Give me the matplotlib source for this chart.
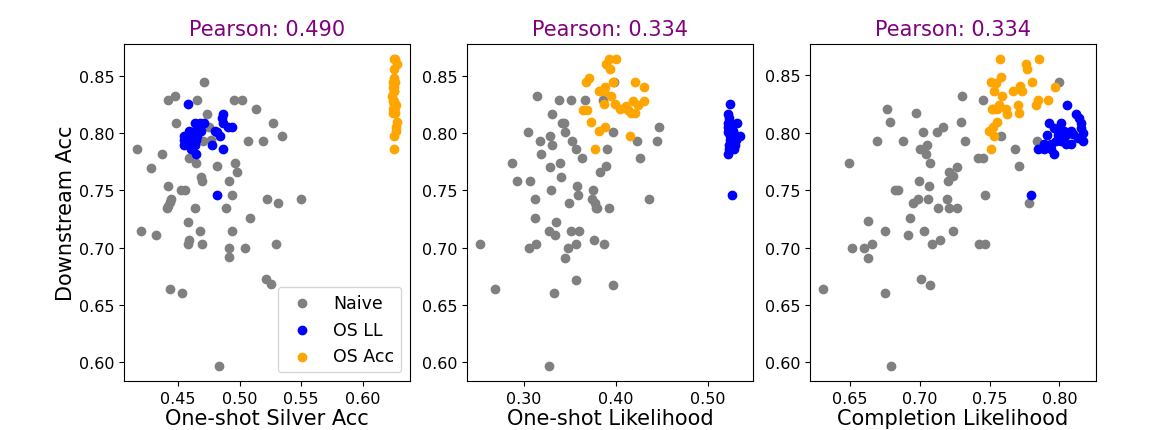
import numpy as np
import matplotlib
matplotlib.use('Agg')
import matplotlib.pyplot as plt
from matplotlib.ticker import FormatStrFormatter

# Painel 1: One-shot Silver Acc x Downstream Acc
naive_silver = [0.4714, 0.4476, 0.4419, 0.4657, 0.4954, 0.5024, 0.5130, 0.4738, 0.4481, 0.5268,
                0.4749, 0.5343, 0.5070, 0.5192, 0.4705, 0.4765, 0.4170, 0.4370, 0.4589, 0.4651,
                0.4962, 0.4814, 0.4278, 0.4976, 0.4684, 0.4697, 0.4911, 0.4419, 0.4522, 0.4557,
                0.4943, 0.5224, 0.5316, 0.5497, 0.4446, 0.4435, 0.4422, 0.4408, 0.4638, 0.4889,
                0.5084, 0.4584, 0.4197, 0.4676, 0.4943, 0.4324, 0.4592, 0.4584, 0.4695, 0.5300,
                0.4914, 0.5043, 0.4914, 0.5216, 0.5259, 0.4435, 0.4532, 0.4832]
naive_silver_acc = [0.8442, 0.8324, 0.8284, 0.8284, 0.8284, 0.8284, 0.8206, 0.8168, 0.8090, 0.8087,
                    0.8053, 0.7972, 0.7932, 0.7932, 0.7932, 0.7937, 0.7857, 0.7813, 0.7779, 0.7735,
                    0.7735, 0.7712, 0.7698, 0.7660, 0.7620, 0.7583, 0.7583, 0.7539, 0.7502, 0.7502,
                    0.7461, 0.7421, 0.7386, 0.7421, 0.7424, 0.7395, 0.7366, 0.7343, 0.7343, 0.7343,
                    0.7262, 0.7228, 0.7147, 0.7147, 0.7147, 0.7109, 0.7069, 0.7032, 0.7032, 0.7032,
                    0.6994, 0.6994, 0.6916, 0.6726, 0.6680, 0.6642, 0.6605, 0.5973]

osll_acc = [0.8249, 0.8168, 0.8128, 0.8090, 0.8090, 0.8090, 0.8090, 0.8053, 0.8053, 0.8015,
            0.8015, 0.8015, 0.8015, 0.8010, 0.7972, 0.7972, 0.7972, 0.7972, 0.7972, 0.7937,
            0.7937, 0.7937, 0.7894, 0.7894, 0.7894, 0.7894, 0.7860, 0.7860, 0.7813, 0.7461]
osll_silver = [0.4581, 0.4868, 0.4859, 0.4635, 0.4676, 0.4711, 0.4868, 0.4908, 0.4941, 0.4589,
               0.4635, 0.4684, 0.4800, 0.4819, 0.4549, 0.4576, 0.4616, 0.4657, 0.4838, 0.4549,
               0.4589, 0.4643, 0.4549, 0.4589, 0.4635, 0.4778, 0.4868, 0.4603, 0.4651, 0.4819]
osll_lik = [0.5244, 0.5226, 0.5233, 0.5317, 0.5226, 0.5233, 0.5244, 0.5219, 0.5240, 0.5262,
            0.5233, 0.5250, 0.5280, 0.5226, 0.5353, 0.5299, 0.5262, 0.5240, 0.5320, 0.5244,
            0.5280, 0.5310, 0.5299, 0.5233, 0.5262, 0.5250, 0.5233, 0.5290, 0.5226, 0.5270]

osacc_acc = [0.8644, 0.8641, 0.8598, 0.8558, 0.8483, 0.8442, 0.8442, 0.8442, 0.8399, 0.8405,
             0.8362, 0.8362, 0.8324, 0.8252, 0.8252, 0.8209, 0.8232, 0.8281, 0.8281, 0.8246,
             0.8203, 0.8174, 0.8174, 0.8203, 0.8203, 0.8093, 0.8015, 0.8053, 0.7972, 0.7862]
osacc_silver = [0.6251, 0.6262, 0.6278, 0.6257, 0.6251, 0.6257, 0.6246, 0.6262, 0.6251, 0.6246,
                0.6257, 0.6251, 0.6241, 0.6257, 0.6251, 0.6246, 0.6262, 0.6257, 0.6246, 0.6268,
                0.6251, 0.6246, 0.6262, 0.6257, 0.6251, 0.6278, 0.6268, 0.6268, 0.6257, 0.6251]
osacc_lik = [0.3925, 0.4005, 0.3889, 0.3933, 0.3714, 0.3678, 0.3969, 0.4206, 0.4308, 0.3878,
             0.3823, 0.3867, 0.3944, 0.3867, 0.3987, 0.4042, 0.4115, 0.4188, 0.4308, 0.4242,
             0.4133, 0.4169, 0.4206, 0.3641, 0.3689, 0.3732, 0.3823, 0.3878, 0.4151, 0.3769]

# Painel 2: One-shot Likelihood
naive_lik = [0.2523, 0.2687, 0.2869, 0.2923, 0.3047, 0.3069, 0.3117, 0.3117, 0.3128, 0.3051,
             0.3142, 0.3171, 0.3189, 0.3288, 0.3302, 0.3310, 0.3281, 0.3295, 0.3346, 0.3335,
             0.3270, 0.3328, 0.3270, 0.3379, 0.3397, 0.3408, 0.3412, 0.3441, 0.3448, 0.3510,
             0.3525, 0.3488, 0.3485, 0.3444, 0.3514, 0.3572, 0.3579, 0.3590, 0.3601, 0.3572,
             0.3568, 0.3638, 0.3670, 0.3754, 0.3747, 0.3772, 0.3780, 0.3801, 0.3765, 0.3827,
             0.3860, 0.3889, 0.3900, 0.3874, 0.3929, 0.3973, 0.3973, 0.3984, 0.4231, 0.4268,
             0.4359, 0.4450, 0.4468]
naive_lik_acc = [0.7032, 0.6642, 0.7735, 0.7583, 0.8010, 0.7583, 0.7421, 0.7262, 0.7032, 0.6994,
                 0.8321, 0.7932, 0.7813, 0.7972, 0.8168, 0.7894, 0.7701, 0.7502, 0.7228, 0.7109,
                 0.7147, 0.6605, 0.5973, 0.8287, 0.7735, 0.7620, 0.8090, 0.8090, 0.8010, 0.8287,
                 0.7932, 0.7386, 0.6994, 0.6913, 0.7147, 0.7860, 0.7536, 0.7459, 0.7147, 0.7032,
                 0.6723, 0.7779, 0.8287, 0.7502, 0.7424, 0.7386, 0.7343, 0.7343, 0.7066, 0.7660,
                 0.8287, 0.7710, 0.7860, 0.7032, 0.7343, 0.6674, 0.8010, 0.8445, 0.7932, 0.7779,
                 0.7421, 0.7932, 0.8053]

# Painel 3: Completion Likelihood
naive_comp = [0.6306, 0.6495, 0.6510, 0.6598, 0.6625, 0.6630, 0.6658, 0.6690, 0.6750, 0.6750,
              0.6766, 0.6786, 0.6790, 0.6822, 0.6846, 0.6882, 0.6918, 0.6927, 0.6949, 0.6973,
              0.6994, 0.6990, 0.7004, 0.7026, 0.7021, 0.7047, 0.7052, 0.7057, 0.7064, 0.7071,
              0.7086, 0.7076, 0.7006, 0.7126, 0.7129, 0.7146, 0.7167, 0.7196, 0.7203, 0.7206,
              0.7206, 0.7237, 0.7237, 0.7266, 0.7266, 0.7294, 0.7304, 0.7323, 0.7417, 0.7426,
              0.7450, 0.7465, 0.7453, 0.7470, 0.7578, 0.7683, 0.7707, 0.7779, 0.7839, 0.8000]
naive_comp_acc = [0.6642, 0.7735, 0.6994, 0.6994, 0.6913, 0.7228, 0.7032, 0.7932, 0.7147, 0.6605,
                  0.8206, 0.8090, 0.5973, 0.7502, 0.7502, 0.7932, 0.7109, 0.7262, 0.7386, 0.8168,
                  0.7583, 0.7421, 0.7860, 0.7144, 0.8010, 0.7813, 0.7894, 0.7421, 0.7536, 0.7735,
                  0.7032, 0.6674, 0.6723, 0.8010, 0.7343, 0.7066, 0.8053, 0.7421, 0.7583, 0.7660,
                  0.7343, 0.7620, 0.7147, 0.7701, 0.7343, 0.8090, 0.8321, 0.7932, 0.7779, 0.7032,
                  0.7779, 0.7032, 0.8287, 0.7461, 0.7972, 0.7860, 0.7712, 0.7386, 0.7932, 0.8442]

osll_comp = [0.8053, 0.8120, 0.8137, 0.8156, 0.7928, 0.8012, 0.7964, 0.8000, 0.8036, 0.8084,
             0.8168, 0.7911, 0.7988, 0.8048, 0.8096, 0.8168, 0.7892, 0.7940, 0.7976, 0.8012,
             0.8048, 0.8084, 0.7844, 0.7892, 0.7940, 0.7959, 0.7796, 0.8156, 0.8132, 0.8024]
osll_comp_acc = [0.8246, 0.8165, 0.8125, 0.8087, 0.8087, 0.8087, 0.8044, 0.8015, 0.8015, 0.8015,
                 0.8001, 0.7978, 0.7978, 0.7978, 0.7986, 0.7929, 0.7900, 0.7900, 0.7929, 0.7929,
                 0.7900, 0.7900, 0.7857, 0.7857, 0.7857, 0.7813, 0.7458, 0.8044, 0.7958, 0.7943]

osacc_comp = [0.7575, 0.7856, 0.7760, 0.7765, 0.7580, 0.7508, 0.7544, 0.7801, 0.7969, 0.7532,
              0.7587, 0.7664, 0.7719, 0.7731, 0.7916, 0.7844, 0.7832, 0.7705, 0.7568, 0.7527,
              0.7556, 0.7616, 0.7628, 0.7712, 0.7551, 0.7527, 0.7496, 0.7532, 0.7508, 0.7515]
osacc_comp_acc = [0.8641, 0.8641, 0.8598, 0.8558, 0.8483, 0.8442, 0.8434, 0.8442, 0.8399, 0.8362,
                  0.8324, 0.8362, 0.8411, 0.8362, 0.8284, 0.8284, 0.8246, 0.8246, 0.8246, 0.8203,
                  0.8203, 0.8203, 0.8165, 0.8168, 0.8093, 0.8053, 0.8015, 0.7972, 0.7862, 0.8203]

pearson = ['0.490', '0.334', '0.334']
xlabels = ['One-shot Silver Acc', 'One-shot Likelihood', 'Completion Likelihood']

paineis = [
    ((naive_silver, naive_silver_acc), (osll_silver, osll_acc), (osacc_silver, osacc_acc)),
    ((naive_lik, naive_lik_acc), (osll_lik, osll_acc), (osacc_lik, osacc_acc)),
    ((naive_comp, naive_comp_acc), (osll_comp, osll_comp_acc), (osacc_comp, osacc_comp_acc)),
]

fig, axes = plt.subplots(1, 3, figsize=(11.72, 4.31), dpi=100)
fig.subplots_adjust(left=0.106, right=0.935, top=0.896, bottom=0.114, wspace=0.2)

for i, ax in enumerate(axes):
    (nx, ny), (lx, ly), (ox, oy) = paineis[i]
    ax.scatter(nx, ny, color='gray', label='Naive')
    ax.scatter(lx, ly, color='blue', label='OS LL')
    ax.scatter(ox, oy, color='orange', label='OS Acc')
    ax.set_title(f'Pearson: {pearson[i]}', color='purple', fontsize=15)
    ax.set_xlabel(xlabels[i], fontsize=15, labelpad=2)
    ax.tick_params(labelsize=11.5)
    ax.set_yticks(np.arange(0.60, 0.851, 0.05))
    ax.xaxis.set_major_formatter(FormatStrFormatter('%.2f'))
    ax.yaxis.set_major_formatter(FormatStrFormatter('%.2f'))

axes[0].set_xticks([0.45, 0.50, 0.55, 0.60])
axes[1].set_xticks([0.30, 0.40, 0.50])
axes[2].set_xticks([0.65, 0.70, 0.75, 0.80])
axes[0].set_ylabel('Downstream Acc', fontsize=15, labelpad=2)
axes[0].legend(loc='lower right', fontsize=12.5)

plt.savefig('out.png')
